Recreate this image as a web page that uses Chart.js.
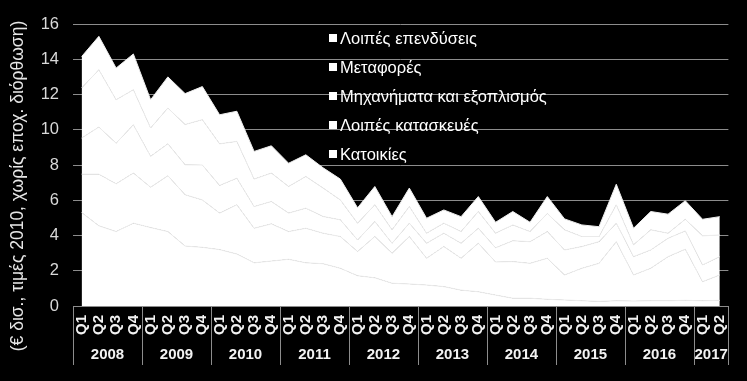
<!DOCTYPE html>
<html>
<head>
<meta charset="utf-8">
<script src="https://cdn.jsdelivr.net/npm/chart.js@4/dist/chart.umd.min.js"></script>
<style>
  html, body { margin: 0; padding: 0; background: #000; }
  #wrap { width: 747px; height: 381px; }
</style>
</head>
<body>
<div id="wrap"><canvas id="c" width="747" height="381"></canvas></div>
<script>
// ---- Data ----
const quarterLabels = [
  'Q1','Q2','Q3','Q4','Q1','Q2','Q3','Q4','Q1','Q2','Q3','Q4',
  'Q1','Q2','Q3','Q4','Q1','Q2','Q3','Q4','Q1','Q2','Q3','Q4',
  'Q1','Q2','Q3','Q4','Q1','Q2','Q3','Q4','Q1','Q2','Q3','Q4',
  'Q1','Q2'
];
const yearLabels = ['2008','2009','2010','2011','2012','2013','2014','2015','2016','2017'];
const quartersPerYear = [4,4,4,4,4,4,4,4,4,2];

const seriesNames = ['Κατοικίες','Λοιπές κατασκευές','Μηχανήματα και εξοπλισμός','Μεταφορές','Λοιπές επενδύσεις'];

const katoikies = [5.3,4.55,4.22,4.7,4.45,4.22,3.4,3.33,3.2,2.95,2.45,2.55,2.65,2.45,2.4,2.14,1.72,1.6,1.29,1.25,1.19,1.1,0.9,0.81,0.62,0.44,0.44,0.38,0.34,0.3,0.26,0.3,0.28,0.3,0.3,0.32,0.3,0.32];
const loipesKataskeves = [2.18,2.93,2.71,2.84,2.29,3.17,2.91,2.69,2.07,2.79,1.96,2.11,1.57,1.96,1.73,1.8,1.37,2.34,1.7,2.69,1.52,2.27,1.81,2.75,1.88,2.08,1.98,2.33,1.42,1.84,2.16,3.35,1.48,1.84,2.5,2.9,1.08,1.44];
const michanimata = [2.05,2.67,2.31,2.74,1.75,1.81,1.7,1.98,1.57,1.51,1.23,1.27,1.05,1.14,0.95,0.95,0.66,0.85,0.57,0.76,0.85,0.76,0.85,0.85,0.8,1.18,1.23,1.51,1.42,1.23,1.23,1.05,1.04,1.04,1.04,1.04,0.95,1.04];
const metafores = [2.84,3.25,2.46,1.99,1.61,2.03,2.29,2.57,2.36,2.09,1.56,1.61,1.51,1.8,1.61,1.13,0.95,0.95,0.76,0.94,0.57,0.57,0.66,0.95,0.83,0.9,0.57,1.03,1.14,0.57,0.29,1.04,0.67,1.14,0.29,0.66,1.65,1.23];
const loipesEpendyseis = [1.78,1.9,1.8,2.03,1.6,1.77,1.75,1.88,1.65,1.71,1.57,1.55,1.32,1.23,1.15,1.18,0.87,1.04,0.75,1.05,0.85,0.75,0.85,0.85,0.62,0.76,0.53,0.96,0.62,0.66,0.56,1.17,0.94,1.04,1.08,1.05,0.94,1.04];

const yTicks = [0,2,4,6,8,10,12,14,16];
const yTitle = '(€ δισ., τιμές 2010, χωρίς εποχ. διόρθωση)';

// ---- Build chart ----
const seriesValues = [katoikies, loipesKataskeves, michanimata, metafores, loipesEpendyseis];
const datasets = seriesValues.map((vals, i) => ({
  label: seriesNames[i],
  data: vals,
  backgroundColor: '#ffffff',
  borderColor: '#ededed',
  borderWidth: 1,
  pointRadius: 0,
  pointHoverRadius: 0,
  tension: 0,
  fill: i === 0 ? 'origin' : '-1'
}));

const FONT = '"Liberation Sans", Arial, sans-serif';

const bgPlugin = {
  id: 'bg',
  beforeDraw(chart) {
    const c = chart.ctx;
    c.save();
    c.fillStyle = '#000';
    c.fillRect(0, 0, chart.width, chart.height);
    c.restore();
  }
};

const extrasPlugin = {
  id: 'extras',
  afterDraw(chart) {
    const c = chart.ctx;
    const xs = chart.scales.x;
    const area = chart.chartArea;
    const step = xs.getPixelForValue(1) - xs.getPixelForValue(0);
    c.save();
    // year separators and labels
    c.strokeStyle = '#8c8c8c';
    c.lineWidth = 1;
    c.fillStyle = '#f2f2f2';
    c.font = 'bold 15px ' + FONT;
    c.textAlign = 'center';
    c.textBaseline = 'middle';
    let idx = 0;
    const top = area.bottom;
    const bot = area.bottom + 59;
    const drawSep = (px) => {
      const x = Math.round(px) + 0.5;
      c.beginPath(); c.moveTo(x, top); c.lineTo(x, bot); c.stroke();
    };
    yearLabels.forEach((yl, k) => {
      const n = quartersPerYear[k];
      const left = xs.getPixelForValue(idx) - step / 2;
      const right = xs.getPixelForValue(idx + n - 1) + step / 2;
      drawSep(left);
      c.fillText(yl, (left + right) / 2, area.bottom + 49);
      if (k === yearLabels.length - 1) drawSep(right);
      idx += n;
    });
    // y axis title
    c.save();
    c.translate(18, 186);
    c.rotate(-Math.PI / 2);
    c.font = '17.5px ' + FONT;
    c.fillStyle = '#e6e6e6';
    c.textAlign = 'center';
    c.textBaseline = 'middle';
    c.fillText(yTitle, 0, 0);
    c.restore();
    // legend (top item = last dataset)
    c.font = '16.5px ' + FONT;
    c.textAlign = 'left';
    c.textBaseline = 'middle';
    const lx = area.left + 256;
    let ly = 38;
    for (let i = seriesNames.length - 1; i >= 0; i--) {
      c.fillStyle = '#ffffff';
      c.fillRect(lx, ly - 4, 8, 8);
      c.fillText(seriesNames[i], lx + 11, ly + 1);
      ly += 29;
    }
    c.restore();
  }
};

new Chart(document.getElementById('c'), {
  type: 'line',
  data: { labels: quarterLabels, datasets },
  options: {
    responsive: false,
    animation: false,
    events: [],
    layout: { padding: { left: 0, right: 17, top: 24, bottom: 0 } },
    plugins: { legend: { display: false }, tooltip: { enabled: false } },
    scales: {
      x: {
        type: 'category',
        offset: true,
        grid: { display: false, drawTicks: false },
        border: { display: true, color: '#8c8c8c', width: 1 },
        ticks: {
          autoSkip: false,
          minRotation: 90,
          maxRotation: 90,
          padding: 9,
          color: '#f2f2f2',
          font: { family: FONT, size: 15, weight: 'bold' }
        },
        afterFit(s) { s.height = 75; }
      },
      y: {
        stacked: true,
        min: 0,
        max: 16,
        afterBuildTicks(s) { s.ticks = yTicks.map(v => ({ value: v })); },
        grid: { color: '#8c8c8c', lineWidth: 1, drawTicks: false },
        border: { display: false },
        ticks: {
          padding: 14,
          color: '#d9d9d9',
          font: { family: FONT, size: 16.5 }
        },
        afterFit(s) { s.width = 73; }
      }
    }
  },
  plugins: [bgPlugin, extrasPlugin]
});
</script>
</body>
</html>
